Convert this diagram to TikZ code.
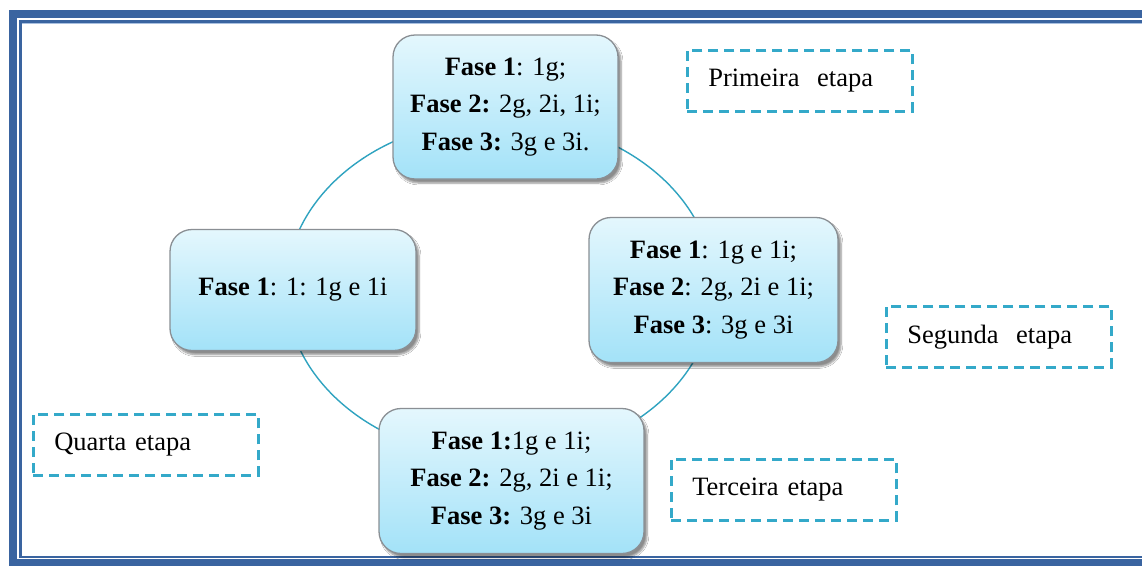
\documentclass[tikz,border=0pt]{standalone}
\usepackage{fontspec}
\setmainfont{Liberation Serif}
\usetikzlibrary{shadows.blur}
\definecolor{frameblue}{HTML}{3A64A0}
\definecolor{framelight}{HTML}{A9C0E0}
\definecolor{ringcol}{HTML}{2FA3C0}
\definecolor{dashcol}{HTML}{34A9C9}
\definecolor{boxtop}{HTML}{E4F7FD}
\definecolor{boxbot}{HTML}{A3E2F8}
\definecolor{boxedge}{HTML}{8A8F94}
\tikzset{
  phase/.style={draw=boxedge, line width=1.3pt, rounded corners=22pt,
    top color=boxtop, bottom color=boxbot, align=center,
    blur shadow={shadow xshift=3pt, shadow yshift=-4pt, shadow blur steps=6, shadow opacity=45},
    font=\fontsize{26.5}{37.5}\selectfont, inner sep=0pt},
  etapa/.style={draw=dashcol, line width=2.6pt, dash pattern=on 10pt off 6pt,
    minimum height=61pt, inner xsep=21pt, inner ysep=0pt, align=left,
    text width=183pt,
    font=\fontsize{26.5}{32}\selectfont, anchor=north west},
}
\begin{document}
\begin{tikzpicture}[x=1pt,y=-1pt]
\clip (0,0) rectangle (1142,565);
\fill[white] (0,0) rectangle (1142,565);
% frame
\draw[frameblue, line width=8pt] (12.5,13.5) rectangle (1170,563);
\draw[frameblue, line width=2.6pt] (20.3,21.5) rectangle (1170,557);
\draw[framelight, line width=1pt] (22.2,23.4) -- (1170,23.4);
% ring
\coordinate (c) at (500,289);
\draw[ringcol, line width=1.4pt] (c) ellipse [x radius=214, y radius=170];
% phase boxes
\node[phase, minimum width=225pt, minimum height=144pt] (top) at (505.5,107)
  {\textbf{Fase 1}: 1g;\\ \textbf{Fase 2:} 2g, 2i, 1i;\\ \textbf{Fase 3:} 3g e 3i.};
\node[phase, minimum width=249pt, minimum height=145pt] (right) at (713.5,290)
  {\textbf{Fase 1}: 1g e 1i;\\ \textbf{Fase 2}: 2g, 2i e 1i;\\ \textbf{Fase 3}: 3g e 3i};
\node[phase, minimum width=246pt, minimum height=121pt] (left) at (293,290)
  {\textbf{Fase 1}: 1: 1g e 1i};
\node[phase, minimum width=265pt, minimum height=145pt] (bottom) at (511.5,481)
  {\textbf{Fase 1:}1g e 1i;\\ \textbf{Fase 2:} 2g, 2i e 1i;\\ \textbf{Fase 3:} 3g e 3i};
% stage labels
\node[etapa] (e1) at (686,49) {Primeira\ \ etapa};
\node[etapa] (e2) at (885,305) {Segunda\ \ etapa};
\node[etapa] (e3) at (670,458) {Terceira etapa};
\node[etapa] (e4) at (32,413) {Quarta etapa};
\end{tikzpicture}
\end{document}
